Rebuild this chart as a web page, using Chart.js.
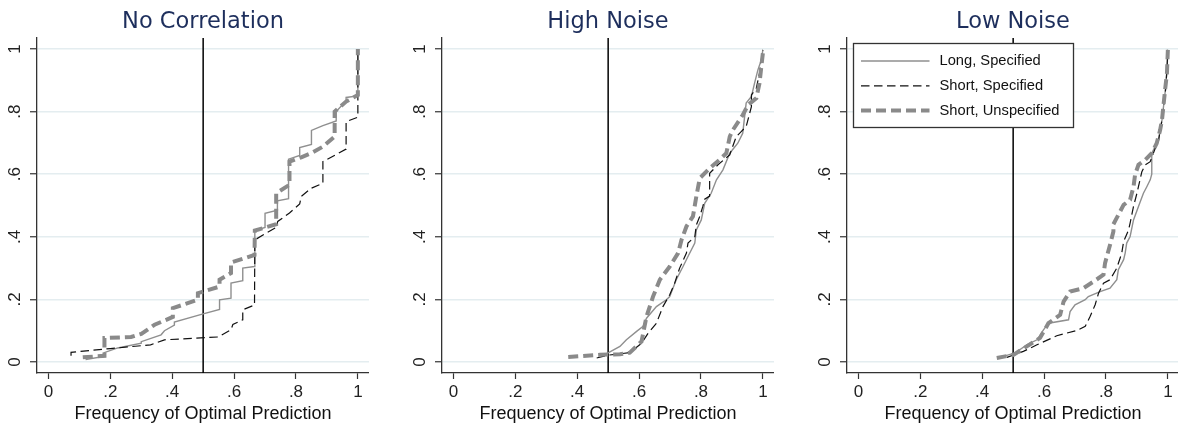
<!DOCTYPE html>
<html><head><meta charset="utf-8">
<script src="https://cdn.jsdelivr.net/npm/chart.js@4.4.1/dist/chart.umd.min.js"></script>
<style>
html,body{margin:0;padding:0;background:#fff;overflow:hidden;width:1178px;height:425px;}
.panel{position:absolute;top:0;width:369px;height:425px;}
canvas{display:block;}
</style></head><body>
<div class="panel" style="left:0px"><canvas id="c0" width="369" height="425"></canvas></div>
<div class="panel" style="left:405px"><canvas id="c1" width="369" height="425"></canvas></div>
<div class="panel" style="left:810px"><canvas id="c2" width="369" height="425"></canvas></div>
<script>
const panelTitles = ['No Correlation', 'High Noise', 'Low Noise'];
const seriesLabels = ['Long, Specified', 'Short, Specified', 'Short, Unspecified'];
const xAxisTitle = 'Frequency of Optimal Prediction';
const xTickValues = [0, 0.2, 0.4, 0.6, 0.8, 1];
const xTickLabels = ['0', '.2', '.4', '.6', '.8', '1'];
const yTickValues = [0, 0.2, 0.4, 0.6, 0.8, 1];
const yTickLabels = ['0', '.2', '.4', '.6', '.8', '1'];
const refLineX = [0.5];

// No Correlation
const noCorrLongX = [0.12,0.18,0.18,0.224,0.30,0.30,0.364,0.375,0.407,0.407,0.50,0.553,0.553,0.59,0.59,0.628,0.628,0.666,0.667,0.70,0.70,0.74,0.74,0.776,0.776,0.812,0.812,0.85,0.85,0.887,0.93,0.93,0.962,0.962,1.0,1.0];
const noCorrLongY = [0.008,0.018,0.03,0.045,0.06,0.065,0.087,0.10,0.118,0.128,0.154,0.168,0.199,0.204,0.252,0.26,0.30,0.305,0.42,0.43,0.475,0.485,0.515,0.522,0.648,0.66,0.685,0.695,0.74,0.755,0.77,0.80,0.835,0.845,0.85,1.0];
const noCorrShortSpecX = [0.073,0.073,0.20,0.33,0.375,0.548,0.59,0.596,0.628,0.628,0.666,0.667,0.70,0.736,0.741,0.779,0.812,0.817,0.849,0.887,0.887,0.962,0.962,1.0,1.0];
const noCorrShortSpecY = [0.02,0.031,0.043,0.055,0.071,0.08,0.103,0.12,0.135,0.167,0.182,0.39,0.41,0.43,0.449,0.476,0.505,0.529,0.555,0.571,0.64,0.68,0.768,0.782,1.0];
const noCorrShortUnspX = [0.111,0.181,0.181,0.267,0.30,0.343,0.402,0.402,0.483,0.483,0.553,0.553,0.59,0.59,0.666,0.667,0.736,0.736,0.779,0.779,0.817,0.855,0.887,0.925,0.925,0.962,1.0,1.0];
const noCorrShortUnspY = [0.015,0.02,0.077,0.08,0.09,0.119,0.144,0.172,0.199,0.22,0.241,0.263,0.284,0.318,0.342,0.42,0.44,0.539,0.566,0.64,0.654,0.67,0.688,0.72,0.80,0.832,0.853,1.0];

// High Noise
const highLongX = [0.48,0.50,0.538,0.559,0.592,0.613,0.624,0.656,0.688,0.699,0.72,0.742,0.758,0.78,0.785,0.801,0.812,0.833,0.85,0.871,0.893,0.919,0.935,0.946,0.963,0.973,0.984,0.995,1.0];
const highLongY = [0.02,0.029,0.05,0.071,0.098,0.114,0.14,0.177,0.199,0.209,0.263,0.305,0.337,0.38,0.422,0.454,0.507,0.539,0.582,0.614,0.667,0.699,0.731,0.827,0.848,0.89,0.933,0.965,0.997];
const highShortSpecX = [0.463,0.50,0.57,0.608,0.629,0.656,0.677,0.699,0.715,0.731,0.753,0.758,0.78,0.785,0.796,0.806,0.812,0.828,0.828,0.855,0.893,0.914,0.93,0.946,0.963,0.963,0.979,0.989,1.0];
const highShortSpecY = [0.013,0.022,0.03,0.06,0.092,0.124,0.177,0.215,0.252,0.30,0.348,0.38,0.40,0.438,0.465,0.497,0.52,0.53,0.603,0.63,0.662,0.72,0.736,0.752,0.816,0.853,0.875,0.922,0.997];
const highShortUnspX = [0.371,0.473,0.538,0.57,0.608,0.624,0.645,0.667,0.699,0.726,0.737,0.753,0.774,0.785,0.796,0.828,0.86,0.882,0.893,0.903,0.935,0.952,0.979,0.989,0.995,1.0];
const highShortUnspY = [0.016,0.023,0.025,0.03,0.066,0.146,0.209,0.263,0.305,0.348,0.39,0.433,0.465,0.529,0.587,0.619,0.646,0.667,0.72,0.741,0.789,0.821,0.843,0.89,0.943,0.986];

// Low Noise
const lowLongX = [0.458,0.506,0.544,0.577,0.598,0.614,0.679,0.684,0.70,0.733,0.743,0.781,0.813,0.835,0.84,0.857,0.862,0.867,0.878,0.889,0.905,0.921,0.932,0.943,0.948,0.948,0.959,0.97,0.975,0.981,0.991,0.997,1.0];
const lowLongY = [0.015,0.029,0.055,0.071,0.103,0.124,0.135,0.161,0.183,0.199,0.209,0.225,0.236,0.263,0.295,0.327,0.348,0.38,0.401,0.454,0.497,0.539,0.56,0.582,0.60,0.667,0.688,0.709,0.741,0.773,0.86,0.93,0.997];
const lowShortSpecX = [0.48,0.533,0.577,0.641,0.706,0.733,0.749,0.765,0.776,0.792,0.813,0.835,0.851,0.857,0.873,0.878,0.889,0.90,0.91,0.916,0.927,0.943,0.953,0.97,0.981,0.991,0.997,1.0];
const lowShortSpecY = [0.015,0.034,0.055,0.084,0.101,0.114,0.146,0.183,0.22,0.252,0.263,0.30,0.348,0.385,0.422,0.444,0.497,0.539,0.582,0.608,0.63,0.64,0.667,0.709,0.773,0.848,0.933,0.997];
const lowShortUnspX = [0.447,0.501,0.544,0.587,0.614,0.652,0.663,0.684,0.727,0.76,0.792,0.797,0.813,0.824,0.824,0.857,0.878,0.889,0.894,0.905,0.927,0.948,0.964,0.975,0.981,0.991,0.997,1.0];
const lowShortUnspY = [0.013,0.023,0.05,0.077,0.124,0.151,0.193,0.225,0.236,0.257,0.279,0.316,0.374,0.417,0.44,0.502,0.518,0.56,0.598,0.63,0.646,0.667,0.699,0.741,0.773,0.869,0.922,0.997];

const panelSeries = [
  [[noCorrLongX, noCorrLongY], [noCorrShortSpecX, noCorrShortSpecY], [noCorrShortUnspX, noCorrShortUnspY]],
  [[highLongX, highLongY], [highShortSpecX, highShortSpecY], [highShortUnspX, highShortUnspY]],
  [[lowLongX, lowLongY], [lowShortSpecX, lowShortSpecY], [lowShortUnspX, lowShortUnspY]]
];

const seriesStyles = [
  {color: '#8f8f8f', width: 1.4, dash: [], order: 2},
  {color: '#111111', width: 1.2, dash: [8.5, 4.5], order: 1},
  {color: '#8a8a8a', width: 4, dash: [10, 5], order: 0}
];

const SANS = '"Liberation Sans", Arial, Helvetica, sans-serif';

function zipXY(xs, ys) {
  const n = Math.min(xs.length, ys.length);
  const out = [];
  for (let i = 0; i < n; i++) out.push({x: xs[i], y: ys[i]});
  return out;
}

const refLinePlugin = {
  id: 'refLine',
  beforeDatasetsDraw(chart) {
    const ctx = chart.ctx, a = chart.chartArea, xs = chart.scales.x;
    ctx.save();
    ctx.strokeStyle = '#000';
    ctx.lineWidth = 1.5;
    refLineX.forEach(v => {
      const px = xs.getPixelForValue(v);
      ctx.beginPath();
      ctx.moveTo(px, a.top);
      ctx.lineTo(px, a.bottom);
      ctx.stroke();
    });
    ctx.restore();
  }
};

const insideLegendPlugin = {
  id: 'insideLegend',
  afterDraw(chart, args, opts) {
    if (!opts || !opts.show) return;
    const ctx = chart.ctx, a = chart.chartArea;
    const bx = a.left + 6.5, by = a.top + 5.5, bw = 220, bh = 84;
    ctx.save();
    ctx.fillStyle = '#fff';
    ctx.fillRect(bx, by, bw, bh);
    ctx.strokeStyle = '#333';
    ctx.lineWidth = 1.3;
    ctx.setLineDash([]);
    ctx.strokeRect(bx, by, bw, bh);
    chart.data.datasets.forEach((ds, i) => {
      const y = by + 17.5 + i * 24.8;
      ctx.beginPath();
      ctx.setLineDash(ds.borderDash || []);
      ctx.strokeStyle = ds.borderColor;
      ctx.lineWidth = ds.borderWidth;
      ctx.moveTo(bx + 7.5, y);
      ctx.lineTo(bx + 76, y);
      ctx.stroke();
      ctx.setLineDash([]);
      ctx.fillStyle = '#111';
      ctx.font = '14.7px ' + SANS;
      ctx.textBaseline = 'middle';
      ctx.textAlign = 'left';
      ctx.fillText(ds.label, bx + 86, y);
    });
    ctx.restore();
  }
};

panelTitles.forEach((title, p) => {
  const datasets = panelSeries[p].map((xy, s) => ({
    label: seriesLabels[s],
    data: zipXY(xy[0], xy[1]),
    showLine: true,
    borderColor: seriesStyles[s].color,
    backgroundColor: seriesStyles[s].color,
    borderWidth: seriesStyles[s].width,
    borderDash: seriesStyles[s].dash,
    pointRadius: 0,
    pointHoverRadius: 0,
    tension: 0,
    fill: false,
    order: seriesStyles[s].order
  }));
  new Chart(document.getElementById('c' + p), {
    type: 'scatter',
    data: {datasets},
    options: {
      responsive: false,
      animation: false,
      devicePixelRatio: 1,
      events: [],
      layout: {padding: {top: 0, right: 0, bottom: 0, left: 0}},
      plugins: {
        legend: {display: false},
        tooltip: {enabled: false},
        title: {
          display: true, text: title, fullSize: false, color: '#1d2e5c',
          font: {family: '"DejaVu Sans", sans-serif', size: 22.5, weight: 'normal', lineHeight: 1.2},
          padding: {top: 8.5, bottom: 2.5}
        },
        insideLegend: {show: p === 2}
      },
      scales: {
        x: {
          type: 'linear', min: -0.037, max: 1.036,
          afterBuildTicks: s => { s.ticks = xTickValues.map(v => ({value: v})); },
          afterFit: s => { s.height = 52; },
          ticks: {
            autoSkip: false, maxRotation: 0, minRotation: 0, padding: 3, color: '#222',
            font: {family: SANS, size: 17},
            callback: (v, i) => xTickLabels[i]
          },
          grid: {drawOnChartArea: false, drawTicks: true, tickLength: 6, tickColor: '#333', tickWidth: 1.2},
          border: {display: true, color: '#333', width: 1.3},
          title: {display: true, text: xAxisTitle, color: '#111', font: {family: SANS, size: 18}, padding: {top: 0, bottom: 0.5}}
        },
        y: {
          type: 'linear', min: -0.035, max: 1.035,
          afterBuildTicks: s => { s.ticks = yTickValues.map(v => ({value: v})); },
          afterFit: s => { s.width = 37; },
          ticks: {
            minRotation: 90, maxRotation: 90, crossAlign: 'center', padding: 8, color: '#222',
            font: {family: SANS, size: 17},
            callback: (v, i) => yTickLabels[i]
          },
          grid: {color: '#e4edf0', lineWidth: 1.5, drawTicks: true, tickLength: 7, tickColor: '#333', tickWidth: 1.2},
          border: {display: true, color: '#333', width: 1.3}
        }
      }
    },
    plugins: [refLinePlugin, insideLegendPlugin]
  });
});
</script>
</body></html>
